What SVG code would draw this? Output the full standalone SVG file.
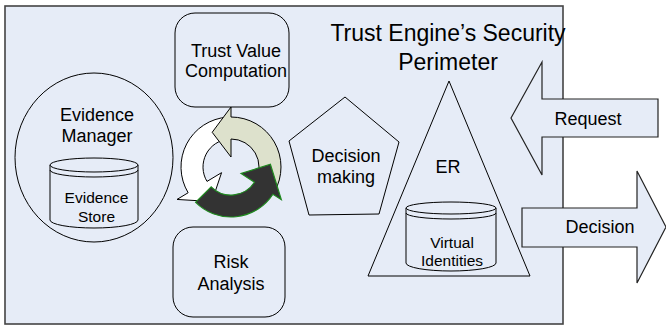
<svg xmlns="http://www.w3.org/2000/svg" width="666" height="327" viewBox="0 0 666 327">
  <style>
    .shape { fill: none; stroke: #000; stroke-width: 1; }
    .filled { fill: #e6ecf7; stroke: #000; stroke-width: 1; }
    .block { fill: #e6ecf7; stroke: #222; stroke-width: 1.2; }
    .lbl { font-family: "Liberation Sans", Arial, sans-serif; font-size: 18px; fill: #000; text-anchor: middle; }
    .small { font-size: 15.5px; }
    .title { font-size: 23px; }
  </style>
  <rect width="666" height="327" fill="#fff"/>

  <!-- security perimeter -->
  <g id="perimeter">
    <rect x="5" y="6" width="558" height="318" fill="#e6ecf7" stroke="#444" stroke-width="1.6"/>
    <text class="lbl title" x="448" y="41">Trust Engine’s Security</text>
    <text class="lbl title" x="448" y="70">Perimeter</text>
  </g>

  <g id="trust-value">
    <rect class="shape" x="175" y="13" width="114" height="94" rx="20"/>
    <text class="lbl" x="236" y="57">Trust Value</text>
    <text class="lbl" x="236" y="77">Computation</text>
  </g>

  <g id="evidence-manager">
    <ellipse class="shape" cx="94" cy="157.5" rx="79" ry="84.5"/>
    <text class="lbl" x="97" y="121">Evidence</text>
    <text class="lbl" x="97" y="142">Manager</text>
  </g>

  <g id="evidence-store">
    <path class="filled" d="M50,165 V220 A44,8 0 0 0 138,220 V165"/>
    <ellipse class="filled" cx="94" cy="165" rx="44" ry="7"/>
    <path class="shape" d="M50,170 A44,7 0 0 0 138,170"/>
    <text class="lbl small" x="96.5" y="203">Evidence</text>
    <text class="lbl small" x="96.5" y="222">Store</text>
  </g>

  <g id="risk-analysis">
    <rect class="shape" x="173" y="227" width="112" height="90" rx="20"/>
    <text class="lbl" x="231" y="268">Risk</text>
    <text class="lbl" x="231" y="290">Analysis</text>
  </g>

  <g id="decision-making">
    <polygon class="shape" points="345,97 399,142 379,214 309,215 289,141"/>
    <text class="lbl" x="346" y="162">Decision</text>
    <text class="lbl" x="346" y="183">making</text>
  </g>

  <g id="er">
    <polygon class="shape" points="449,81 530,276 368,276"/>
    <text class="lbl" x="448" y="173">ER</text>
  </g>

  <g id="virtual-identities">
    <path class="filled" d="M406,208 V263 A45,8 0 0 0 496,263 V208"/>
    <ellipse class="filled" cx="451" cy="208" rx="45" ry="6"/>
    <path class="shape" d="M406,213 A45,6 0 0 0 496,213"/>
    <text class="lbl small" x="452" y="248">Virtual</text>
    <text class="lbl small" x="452" y="266">Identities</text>
  </g>

  <g id="request">
    <polygon class="block" points="511,118 542,62 542,99 658,99 658,137 542,137 542,175"/>
    <text class="lbl" x="588" y="125">Request</text>
  </g>

  <g id="decision">
    <polygon class="block" points="522,208 637,208 637,171 666,227 637,283 637,247 522,247"/>
    <text class="lbl" x="600" y="233">Decision</text>
  </g>

  <!-- circular flow between computation, decision and risk -->
  <g id="connectors" stroke-linejoin="miter">
    <path fill="#fff" stroke="#000" stroke-width="1" d="M227.51,117.12 A50,50 0 0 0 188.14,192.75 L177,199.45 L211.85,201.55 L221.57,172.67 L207,181.42 A28,28 0 0 1 229.05,139.07 Z"/>
    <path fill="#dde1cc" stroke="#000" stroke-width="1" d="M274.3,192 A50,50 0 0 0 231,117 L231,107 L212.2,132.3 L231,157 L231,139 A28,28 0 0 1 255.25,181 Z"/>
    <path fill="#333" stroke="#1f8a1f" stroke-width="1.2" d="M195.64,202.36 A50,50 0 0 0 272.93,194.23 L281.32,199.68 L270.4,164.24 L241.06,173.54 L254.48,182.25 A28,28 0 0 1 211.2,186.8 Z"/>
  </g>
</svg>
